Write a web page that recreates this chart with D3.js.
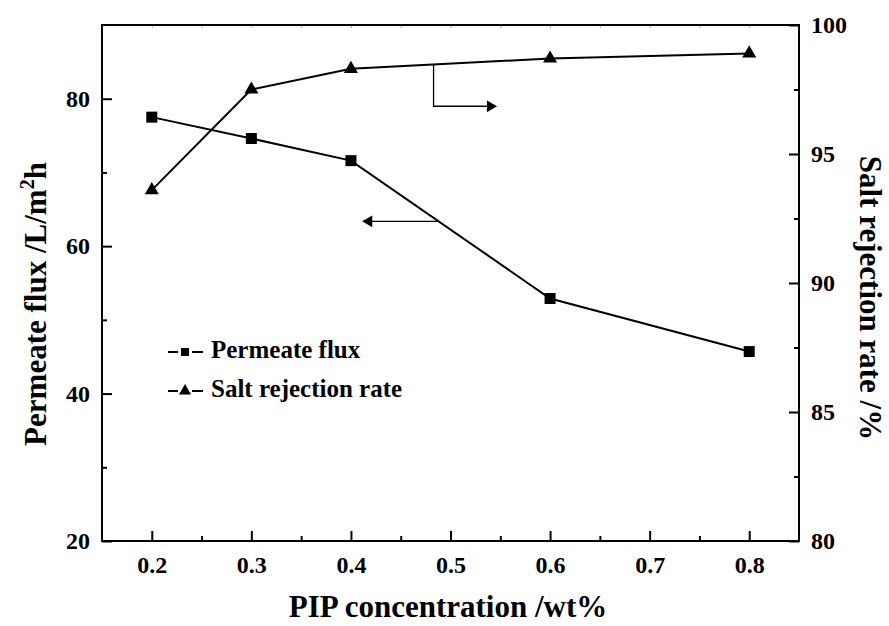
<!DOCTYPE html>
<html>
<head>
<meta charset="utf-8">
<script src="https://cdn.jsdelivr.net/npm/d3@7"></script>
<style>
  body { margin: 0; background: #fff; }
</style>
</head>
<body>
<div id="chart"></div>
<script>
// data
const pipConc = [0.2, 0.3, 0.4, 0.6, 0.8];
const permeateFlux = [77.5, 74.6, 71.6, 52.9, 45.7];
const saltRejection = [93.6, 97.5, 98.3, 98.7, 98.9];
const xTicks = [0.2, 0.3, 0.4, 0.5, 0.6, 0.7, 0.8];
const xMinor = [0.25, 0.35, 0.45, 0.55, 0.65, 0.75];
const fluxTicks = [20, 40, 60, 80];
const fluxMinor = [30, 50, 70];
const rejTicks = [80, 85, 90, 95, 100];
const rejMinor = [82.5, 87.5, 92.5, 97.5];

const FONT = "'Liberation Serif', 'Times New Roman', Times, serif";

const W = 889, H = 626;
const margin = { top: 25, right: 90, bottom: 85, left: 102 };
const width = W - margin.left - margin.right;
const height = H - margin.top - margin.bottom;

const svg = d3.select("#chart").append("svg")
    .attr("width", W)
    .attr("height", H);
const g = svg.append("g")
    .attr("transform", `translate(${margin.left},${margin.top})`);

const x = d3.scaleLinear().domain([0.15, 0.85]).range([0, width]);
const yL = d3.scaleLinear().domain([20, 90]).range([height, 0]);
const yR = d3.scaleLinear().domain([80, 100]).range([height, 0]);

// axes, ticks point inward
g.append("g")
    .attr("transform", `translate(0,${height})`)
    .call(d3.axisBottom(x).tickValues(xTicks).tickSize(-10).tickPadding(15).tickFormat(d3.format(".1f")))
    .call(a => a.selectAll("text").attr("dy", "0.71em"));
g.append("g")
    .attr("transform", `translate(0,${height})`)
    .call(d3.axisBottom(x).tickValues(xMinor).tickSize(-5).tickFormat(""));
g.append("g")
    .attr("class", "top")
    .call(d3.axisTop(x).tickValues(xTicks.concat(xMinor)).tickSize(-3).tickFormat(""));

g.append("g")
    .call(d3.axisLeft(yL).tickValues(fluxTicks).tickSize(-10).tickPadding(12));
g.append("g")
    .call(d3.axisLeft(yL).tickValues(fluxMinor).tickSize(-5).tickFormat(""));

g.append("g")
    .attr("transform", `translate(${width},0)`)
    .call(d3.axisRight(yR).tickValues(rejTicks).tickSize(-10).tickPadding(12));
g.append("g")
    .attr("transform", `translate(${width},0)`)
    .call(d3.axisRight(yR).tickValues(rejMinor).tickSize(-5).tickFormat(""));

g.selectAll(".domain").remove();
g.selectAll(".tick line").attr("stroke", "#000").attr("stroke-width", 2);
g.selectAll(".top .tick line").attr("stroke", "#aaa").attr("stroke-width", 1);
g.selectAll(".tick text").attr("font-size", 24);

g.append("rect")
    .attr("width", width).attr("height", height)
    .attr("fill", "none").attr("stroke", "#000").attr("stroke-width", 2);

// series
const fluxData = pipConc.map((c, i) => ({ c, v: permeateFlux[i] }));
const rejData = pipConc.map((c, i) => ({ c, v: saltRejection[i] }));

g.append("path")
    .datum(fluxData)
    .attr("fill", "none").attr("stroke", "#000").attr("stroke-width", 2)
    .attr("d", d3.line().x(d => x(d.c)).y(d => yL(d.v)));
g.append("path")
    .datum(rejData)
    .attr("fill", "none").attr("stroke", "#000").attr("stroke-width", 2)
    .attr("d", d3.line().x(d => x(d.c)).y(d => yR(d.v)));

const sq = d3.symbol().type(d3.symbolSquare).size(121);
const tri = d3.symbol().type(d3.symbolTriangle).size(85);

g.selectAll(".sq")
    .data(fluxData)
    .enter().append("path")
    .attr("transform", d => `translate(${x(d.c)},${yL(d.v)})`)
    .attr("d", sq).attr("fill", "#000");
g.selectAll(".tri")
    .data(rejData)
    .enter().append("path")
    .attr("transform", d => `translate(${x(d.c)},${yR(d.v)})`)
    .attr("d", tri).attr("fill", "#000");

// arrows pointing to each series' axis
const head = d3.symbol().type(d3.symbolTriangle).size(60);
function lerpAt(xs, ys, c) {
    const i = d3.bisectLeft(xs, c);
    const t = (c - xs[i - 1]) / (xs[i] - xs[i - 1]);
    return ys[i - 1] + t * (ys[i] - ys[i - 1]);
}
const la = { from: 0.488, to: 0.413 };
const ly = yL(lerpAt(pipConc, permeateFlux, la.from));
g.append("line")
    .attr("x1", x(la.from)).attr("y1", ly).attr("x2", x(la.to) + 8).attr("y2", ly)
    .attr("stroke", "#000").attr("stroke-width", 1.3);
g.append("path")
    .attr("d", head)
    .attr("transform", `translate(${x(la.to) + 5},${ly}) rotate(-90)`)
    .attr("fill", "#000");

const ra = { at: 0.483, down: 96.85, to: 0.545 };
const ry0 = yR(lerpAt(pipConc, saltRejection, ra.at)), ry1 = yR(ra.down);
g.append("path")
    .attr("d", `M${x(ra.at)},${ry0}V${ry1}H${x(ra.to) - 8}`)
    .attr("fill", "none").attr("stroke", "#000").attr("stroke-width", 1.3);
g.append("path")
    .attr("d", head)
    .attr("transform", `translate(${x(ra.to) - 5},${ry1}) rotate(90)`)
    .attr("fill", "#000");

// legend
const legend = svg.append("g").attr("transform", "translate(168,352)");
const items = [
    { label: "Permeate flux", sym: d3.symbol().type(d3.symbolSquare).size(64) },
    { label: "Salt rejection rate", sym: d3.symbol().type(d3.symbolTriangle).size(62) }
];
items.forEach((it, i) => {
    const row = legend.append("g").attr("transform", `translate(0,${i * 39})`);
    row.append("line").attr("x1", 0).attr("x2", 10).attr("y1", 0).attr("y2", 0)
        .attr("stroke", "#000").attr("stroke-width", 2);
    row.append("line").attr("x1", 24).attr("x2", 35).attr("y1", 0).attr("y2", 0)
        .attr("stroke", "#000").attr("stroke-width", 2);
    row.append("path").attr("d", it.sym).attr("transform", "translate(17,0)").attr("fill", "#000");
    row.append("text").attr("x", 43).attr("y", 6).attr("font-size", 25).text(it.label);
});

// axis titles
svg.append("text")
    .attr("x", 448).attr("y", 617)
    .attr("text-anchor", "middle").attr("font-size", 31)
    .text("PIP concentration /wt%");

const lt = svg.append("text")
    .attr("transform", "translate(46,304) rotate(-90)")
    .attr("text-anchor", "middle").attr("font-size", 31);
lt.append("tspan").text("Permeate flux /L/m");
lt.append("tspan").attr("dy", -12).attr("font-size", 20).text("2");
lt.append("tspan").attr("dy", 12).text("h");

svg.append("text")
    .attr("transform", "translate(860,298) rotate(90)")
    .attr("text-anchor", "middle").attr("font-size", 31)
    .text("Salt rejection rate /%");

svg.selectAll("text")
    .attr("font-family", FONT)
    .style("font-family", FONT)
    .attr("font-weight", "bold")
    .attr("fill", "#000");
</script>
</body>
</html>
